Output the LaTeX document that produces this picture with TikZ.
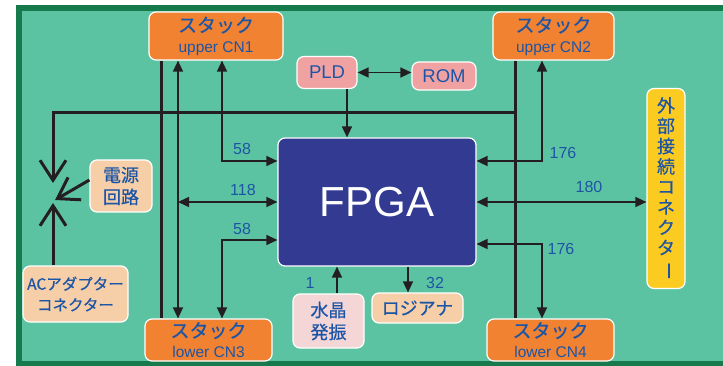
\documentclass[tikz,border=0pt]{standalone}
\usepackage{fontspec}
\setmainfont{Liberation Sans}
\newfontfamily\jp[FakeBold=0.6]{Noto Sans CJK JP}
\usepackage{tikz}
\usetikzlibrary{arrows.meta}

\definecolor{boardgreen}{HTML}{5CC3A2}
\definecolor{boardedge}{HTML}{167A4C}
\definecolor{stackor}{HTML}{F08232}
\definecolor{pldpink}{HTML}{F0A2A2}
\definecolor{xtalpink}{HTML}{F5D6D6}
\definecolor{peach}{HTML}{F6CFA8}
\definecolor{extyellow}{HTML}{FCCB22}
\definecolor{fpgablue}{HTML}{333A92}
\definecolor{txtblue}{HTML}{1D55A6}
\definecolor{linec}{HTML}{231F20}

\newcommand{\stackname}[1]{{\jp\fontsize{19}{19}\selectfont スタック}\\#1}

\tikzset{
  box/.style={draw=white, line width=1.2pt, rounded corners=7pt,
    text=txtblue, align=center, inner sep=0pt},
  stackbox/.style={box, fill=stackor, minimum width=#1, minimum height=48pt,
    font=\fontsize{15.5}{20}\selectfont},
  jpbox/.style={box, font={\jp\fontsize{18}{22}\selectfont}},
  num/.style={text=txtblue, inner sep=0pt, font=\fontsize{16}{16}\selectfont},
  bus/.style={draw=linec, line width=3pt},
  pw/.style={draw=linec, line width=3pt,
    -{Straight Barb[length=20pt,width=26pt]}},
  ar/.style={draw=linec, line width=1.5pt,
    -{Triangle[length=11pt,width=10pt]}},
  dar/.style={draw=linec, line width=1.5pt,
    {Triangle[length=11pt,width=10pt]}-{Triangle[length=11pt,width=10pt]}}
}

\begin{document}
\begin{tikzpicture}[x=1pt,y=-1pt]
\useasboundingbox (0,0) rectangle (723,366);
\fill[boardgreen] (16,5) rectangle (740,366);
\draw[boardedge, line width=6pt] (19,8) rectangle (740,363.5);

\path
 (216,36)    node[stackbox=134pt] (CN1) {\stackname{upper CN1}}
 (553.5,36)  node[stackbox=121pt] (CN2) {\stackname{upper CN2}}
 (208.5,340) node[stackbox=127pt, minimum height=42pt] (CN3) {\stackname{lower CN3}}
 (550.5,340) node[stackbox=127pt, minimum height=42pt] (CN4) {\stackname{lower CN4}}
 (327,72.5)  node[box, fill=pldpink, minimum width=60pt, minimum height=32pt,
                  font=\fontsize{18.5}{18.5}\selectfont] (PLD) {PLD}
 (444,76)    node[box, fill=pldpink, minimum width=64pt, minimum height=28pt,
                  font=\fontsize{18.5}{18.5}\selectfont] (ROM) {ROM}
 (377,202)   node[box, fill=fpgablue, minimum width=198pt, minimum height=128pt,
                  text=white, font=\fontsize{42}{42}\selectfont] (FPGA) {FPGA}
 (666,188.5) node[jpbox, fill=extyellow, minimum width=38pt, minimum height=200pt,
                  font={\jp\fontsize{18}{20.3}\selectfont}] (EXT)
                  {外\\部\\接\\続\\コ\\ネ\\ク\\タ\\\rotatebox[origin=c]{-90}{ー}}
 (121,186)   node[jpbox, fill=peach, minimum width=62pt, minimum height=52pt] (PWR) {電源\\回路}
 (75.5,294)  node[jpbox, fill=peach, minimum width=105pt, minimum height=56pt,
                  font={\jp\fontsize{15.5}{21}\selectfont}] (AC) {ACアダプター\\コネクター}
 (328.5,321) node[jpbox, fill=xtalpink, minimum width=71pt, minimum height=54pt] (XTAL) {水晶\\発振}
 (417.5,308) node[jpbox, fill=peach, minimum width=91pt, minimum height=30pt] (LA) {ロジアナ}
;

\path
 (53,0)  coordinate (xa)
 (161,0) coordinate (xb)
 (178,0) coordinate (xc)
 (222,0) coordinate (xd)
 (515,0) coordinate (xe)
 (542,0) coordinate (xf)
 (347,0) coordinate (xg)
 (337,0) coordinate (xh)
 (408,0) coordinate (xi)
 (0,113) coordinate (yb)
 (0,161) coordinate (ya)
 (0,202) coordinate (ym)
 (0,240) coordinate (yc)
 (0,244) coordinate (yd)
 (53,183) coordinate (pin)
 (55,200) coordinate (pd)
 (53,203) coordinate (pu)
;

\draw[bus]
   (xb |- CN1.south) -- (xb |- CN3.north)
   (xe |- CN2.south) -- (xe |- CN4.north)
;
\draw[pw] (xe |- yb) -- (xa |- yb) -- (pin);
\draw[pw] ([yshift=6pt]PWR.west) -- (pd);
\draw[pw] (xa |- AC.north) -- (pu);

\draw[dar] (xc |- CN1.south) -- (xc |- CN3.north);
\draw[dar] (xd |- CN1.south) |- (FPGA.west |- ya);
\draw[dar] (xc |- ym) -- (FPGA.west |- ym);
\draw[dar] (FPGA.west |- yc) -| (xd |- CN3.north);
\draw[dar] (FPGA.east |- ya) -| (xf |- CN2.south);
\draw[dar] (FPGA.east |- ym) -- (EXT.west |- ym);
\draw[dar] (FPGA.east |- yd) -| (xf |- CN4.north);
\draw[dar] (PLD.east) -- (PLD.east -| ROM.west);
\draw[ar] (xg |- PLD.south) -- (xg |- FPGA.north);
\draw[ar] (xh |- XTAL.north) -- (xh |- FPGA.south);
\draw[ar] (xi |- FPGA.south) -- (xi |- LA.north);

\path
 (242,149) node[num] (n58a) {58}
 (243,190) node[num] (n118) {118}
 (242,229) node[num] (n58b) {58}
 (563,153) node[num] (n176a) {176}
 (589,187) node[num] (n180) {180}
 (561,249) node[num] (n176b) {176}
 (310,283) node[num] (n1) {1}
 (435,283) node[num] (n32) {32}
;
\end{tikzpicture}
\end{document}
